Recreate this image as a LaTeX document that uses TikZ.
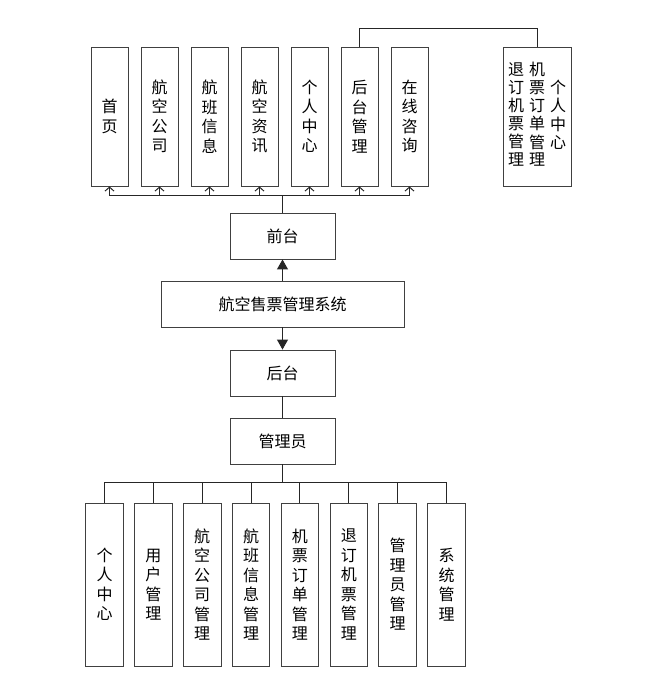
\documentclass[tikz,border=0pt]{standalone}
\usepackage{fontspec}
\setmainfont{Noto Sans CJK SC}
\usetikzlibrary{arrows.meta}
\newcommand{\colstack}[1]{\begin{tabular}[c]{@{}c@{}}#1\end{tabular}}

\begin{document}
\begin{tikzpicture}[x=1pt,y=-1pt,line join=miter,
  box/.style={draw=black!75,fill=white,line width=0.9pt,inner sep=0pt,align=center,font=\fontsize{16}{19.5}\selectfont},
  tall/.style={box,minimum width=37pt,minimum height=139pt},
  low/.style={box,minimum width=37.6pt,minimum height=163pt},
  wide/.style={box,minimum width=105pt,minimum height=46pt},
  link/.style={draw=black!85,line width=1pt},
  barb/.style={link,-{Straight Barb[length=4pt,width=9pt]}},
  tri/.style={link,-{Triangle[length=10pt,width=11pt]}}]
  \useasboundingbox (0,0) rectangle (655,689);
  \node[tall] (sy) at (109.5,116.5) {首\\页};
  \node[tall] (hkgs) at (159.5,116.5) {航\\空\\公\\司};
  \node[tall] (hbxx) at (209.5,116.5) {航\\班\\信\\息};
  \node[tall] (hkzx) at (259.5,116.5) {航\\空\\资\\讯};
  \node[tall] (grzx) at (309.5,116.5) {个\\人\\中\\心};
  \node[tall] (htgl) at (359.5,116.5) {后\\台\\管\\理};
  \node[tall] (zxzx) at (409.5,116.5) {在\\线\\咨\\询};
  \node[box,minimum width=68pt,minimum height=139pt,font=\fontsize{16}{16.5}\selectfont] (ygrzx) at (537,116.5)
    {\colstack{退\\订\\机\\票\\管\\理}\hspace{5pt}\colstack{机\\票\\订\\单\\管\\理}\hspace{5pt}\colstack{个\\人\\中\\心}};
  \node[wide] (qt) at (282.5,236) {前台};
  \node[box,minimum width=243pt,minimum height=46pt] (xt) at (282.5,304) {航空售票管理系统};
  \node[wide] (ht) at (282.5,373) {后台};
  \node[wide] (gly) at (282.5,441) {管理员};
  \node[low] (b1) at (104.5,584.5) {个\\人\\中\\心};
  \node[low] (b2) at (153.4,584.5) {用\\户\\管\\理};
  \node[low] (b3) at (202.2,584.5) {航\\空\\公\\司\\管\\理};
  \node[low] (b4) at (251.1,584.5) {航\\班\\信\\息\\管\\理};
  \node[low] (b5) at (299.9,584.5) {机\\票\\订\\单\\管\\理};
  \node[low] (b6) at (348.8,584.5) {退\\订\\机\\票\\管\\理};
  \node[low] (b7) at (397.7,584.5) {管\\理\\员\\管\\理};
  \node[low] (b8) at (446.5,584.5) {系\\统\\管\\理};
  \coordinate (tbus) at (282.5,195);
  \coordinate (bbus) at (282.5,482);
  \draw[link] (qt.north) -- (tbus);
  \draw[barb] (tbus) -| (sy.south);
  \draw[barb] (tbus) -| (hkgs.south);
  \draw[barb] (tbus) -| (hbxx.south);
  \draw[barb] (tbus) -| (hkzx.south);
  \draw[barb] (tbus) -| (grzx.south);
  \draw[barb] (tbus) -| (htgl.south);
  \draw[barb] (tbus) -| (zxzx.south);
  \draw[link] (htgl.north) -- ++(0,-18) -| (ygrzx.north);
  \draw[tri] (xt) -- (qt);
  \draw[tri] (xt) -- (ht);
  \draw[link] (ht) -- (gly);
  \draw[link] (gly.south) -- (bbus);
  \draw[link] (bbus) -| (b1.north);
  \draw[link] (bbus) -| (b2.north);
  \draw[link] (bbus) -| (b3.north);
  \draw[link] (bbus) -| (b4.north);
  \draw[link] (bbus) -| (b5.north);
  \draw[link] (bbus) -| (b6.north);
  \draw[link] (bbus) -| (b7.north);
  \draw[link] (bbus) -| (b8.north);
\end{tikzpicture}
\end{document}
